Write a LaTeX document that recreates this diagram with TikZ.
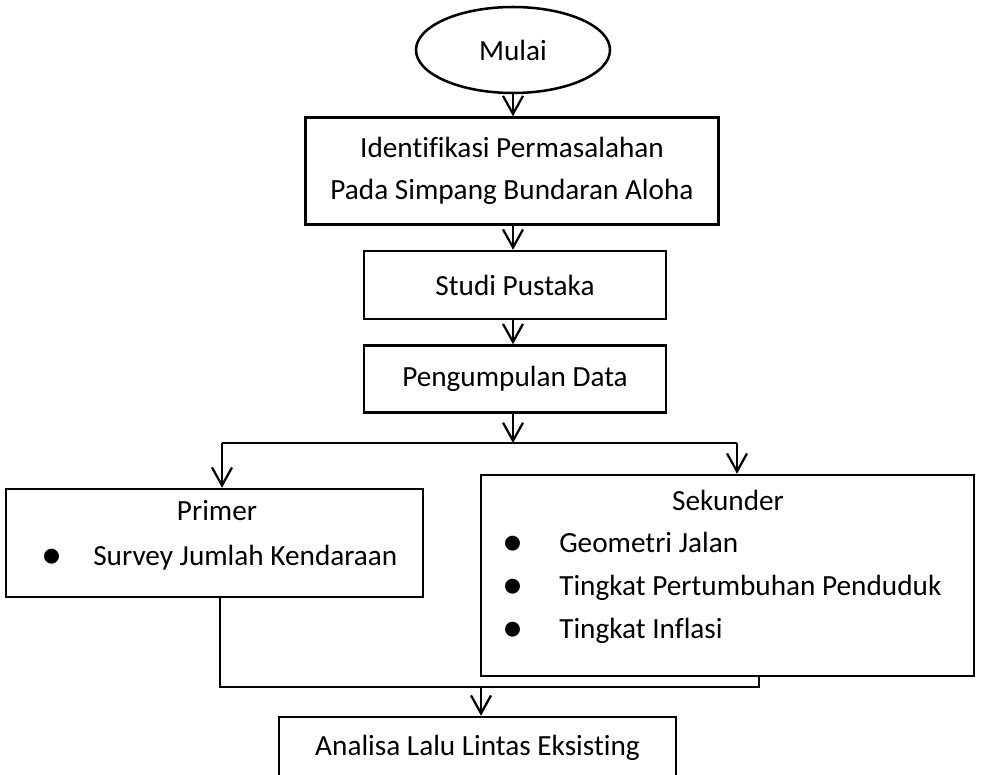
\documentclass[tikz,border=0pt]{standalone}
\usepackage{fontspec}
\setmainfont{Carlito}[Ligatures=CommonOff]
\usetikzlibrary{shapes.geometric,arrows.meta}

\begin{document}
\begin{tikzpicture}[
    x=0.25mm, y=-0.25mm,
    every node/.style={font=\fontsize{20.8}{30}\selectfont, inner sep=0pt},
    txt/.style={text height=0.62em, text depth=0.2em},
    dot/.style={font=\fontsize{30}{30}\selectfont},
    box/.style={draw, rectangle, line width=1.8pt},
    terminal/.style={draw, ellipse, line width=1.8pt},
    link/.style={line width=1.6pt},
    flow/.style={link, -{Straight Barb[length=4.5mm, width=5mm]}}
]
  \clip (0,0) rectangle (987,774);
  % main column
  \node[terminal, minimum width=48.5mm, minimum height=21.5mm] (mulai) at (513,50) {Mulai};
  \node[box, minimum width=103.25mm, minimum height=26.75mm, align=center] (identifikasi) at (512,171)
    {Identifikasi Permasalahan\\Pada Simpang Bundaran Aloha};
  \node[box, minimum width=75.5mm, minimum height=17mm] (studi) at (515,285) {Studi Pustaka};
  \node[box, minimum width=75.5mm, minimum height=16.75mm] (pengumpulan) at (515,379) {Pengumpulan Data};
  % data boxes
  \node[box, minimum width=104.25mm, minimum height=27mm] (primer) at (214.5,543) {};
  \node[txt] (primerhead) at (217,518) {Primer};
  \node[dot] (primerdot) at (52,559) {\textbullet};
  \node[txt, anchor=west] (primerA) at (93,563) {Survey Jumlah Kendaraan};
  \node[box, minimum width=123.25mm, minimum height=50.25mm] (sekunder) at (727.5,575.5) {};
  \node[txt] (sekunderhead) at (728,508) {Sekunder};
  \foreach \y/\t [count=\i] in {550/Geometri Jalan, 593/Tingkat Pertumbuhan Penduduk, 636/Tingkat Inflasi}{
    \node[dot] (sekunderdot\i) at (513,\y-4) {\textbullet};
    \node[txt, anchor=west] (sekunder\i) at (559,\y) {\t};
  }
  \node[box, minimum width=99.25mm, minimum height=15.5mm] (analisa) at (477.5,748) {Analisa Lalu Lintas Eksisting};
  % connectors
  \coordinate (split) at (513,443);
  \coordinate (splitL) at (222,443);
  \coordinate (splitR) at (737,443);
  \coordinate (joinL) at (220,687);
  \coordinate (join) at (481,687);
  \coordinate (joinR) at (759,687);
  \draw[flow] (mulai) -- (mulai |- identifikasi.north);
  \draw[flow] (identifikasi.south -| mulai) -- (mulai |- studi.north);
  \draw[flow] (studi.south -| mulai) -- (mulai |- pengumpulan.north);
  \draw[flow] (pengumpulan.south -| split) -- (split);
  \draw[link] (splitL) -- (splitR);
  \draw[flow] (splitL) -- (splitL |- primer.north);
  \draw[flow] (splitR) -- (splitR |- sekunder.north);
  \draw[link] (joinL |- primer.south) -- (joinL) -- (joinR) -- (joinR |- sekunder.south);
  \draw[flow] (join) -- (join |- analisa.north);
\end{tikzpicture}
\end{document}
